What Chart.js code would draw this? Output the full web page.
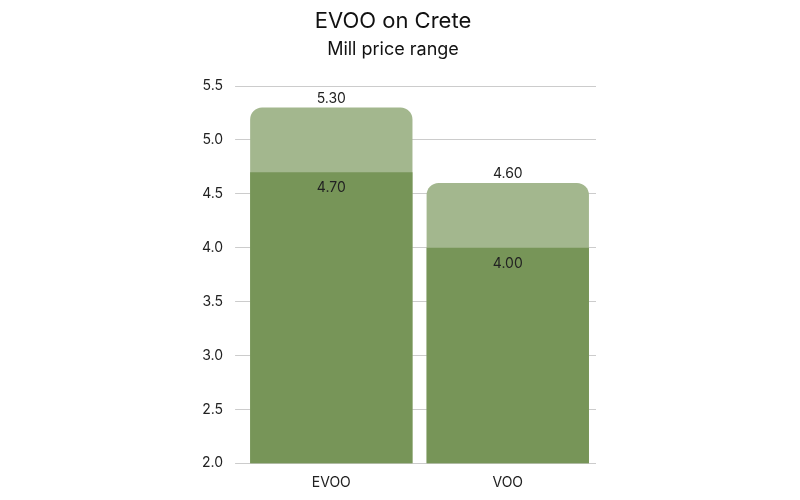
<!DOCTYPE html>
<html><head><meta charset="utf-8">
<script src="https://cdn.jsdelivr.net/npm/chart.js@4"></script>
<style>body{margin:0}#w{width:800px;height:500px}</style></head>
<body><div id="w"><canvas id="c"></canvas></div>
<script>
const categories = ["EVOO", "VOO"];
const maxPrice = [5.30, 4.60];
const minPrice = [4.70, 4.00];
const yTicks = [2.0, 2.5, 3.0, 3.5, 4.0, 4.5, 5.0, 5.5];
Chart.defaults.font.family = "Inter";
const labelPlugin = {
  id: 'lbl',
  afterDatasetsDraw(chart) {
    const ctx = chart.ctx;
    ctx.save();
    ctx.font = '14px Inter';
    ctx.fillStyle = '#222';
    ctx.textAlign = 'center';
    chart.getDatasetMeta(0).data.forEach((b, i) => {
      ctx.textBaseline = 'bottom';
      ctx.fillText(maxPrice[i].toFixed(2), b.x, b.y - 2);
    });
    chart.getDatasetMeta(1).data.forEach((b, i) => {
      ctx.textBaseline = 'top';
      ctx.fillText(minPrice[i].toFixed(2), b.x, b.y + 9);
    });
    ctx.restore();
  }
};
new Chart(document.getElementById('c'), {
  type: 'bar',
  data: {
    labels: categories,
    datasets: [
      { data: maxPrice, backgroundColor: '#a3b78e', borderRadius: {topLeft: 12, topRight: 12}, borderSkipped: 'bottom', grouped: false, order: 2, barPercentage: 0.92, categoryPercentage: 1.0 },
      { data: minPrice, backgroundColor: '#779558', borderRadius: 0, grouped: false, order: 1, barPercentage: 0.92, categoryPercentage: 1.0 }
    ]
  },
  options: {
    responsive: true, maintainAspectRatio: false, animation: false,
    layout: { padding: { left: 190, right: 204, top: 0, bottom: 6 } },
    plugins: {
      legend: { display: false }, tooltip: { enabled: false },
      title: { display: true, text: 'EVOO on Crete', color: '#111', font: { size: 22, weight: 'normal' }, padding: { top: 8, bottom: 4 } },
      subtitle: { display: true, text: 'Mill price range', color: '#111', font: { size: 18 }, padding: { bottom: 26 } }
    },
    scales: {
      x: { grid: { display: false }, border: { display: false }, ticks: { color: '#222', font: { size: 14 } } },
      y: { min: 2.0, max: 5.5, afterBuildTicks: a => { a.ticks = yTicks.map(v => ({ value: v })); },
        grid: { color: '#cccccc' }, border: { display: false },
        ticks: { color: '#222', font: { size: 14 }, padding: 12, callback: v => v.toFixed(1) } }
    }
  },
  plugins: [labelPlugin]
});
</script></body></html>
